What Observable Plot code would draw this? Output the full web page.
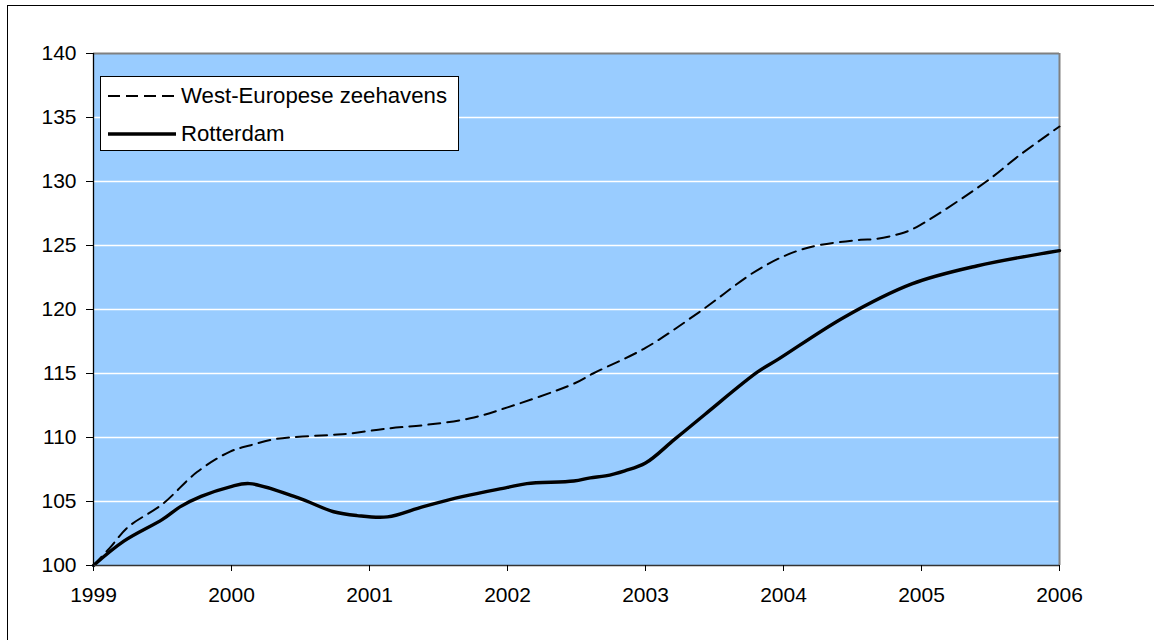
<!DOCTYPE html>
<html>
<head>
<meta charset="utf-8">
<script src="https://cdn.jsdelivr.net/npm/d3@7"></script>
<script src="https://cdn.jsdelivr.net/npm/@observablehq/plot@0.6"></script>
<style>
  html, body { margin: 0; padding: 0; background: #fff; overflow: hidden; }
  body { width: 1154px; height: 640px; position: relative; font-family: "Liberation Sans", Arial, sans-serif; }
  #frame { position: absolute; left: 7px; top: 5px; width: 1300px; height: 800px; border: 1.5px solid #000; box-sizing: border-box; }
  #chart { position: absolute; left: 0; top: 0; }
  #legend { position: absolute; left: 100px; top: 76px; width: 359px; height: 75px; background: #fff; border: 1px solid #000; box-sizing: border-box; }
  #legend .item { position: absolute; left: 0; height: 30px; display: flex; align-items: center; }
  #legend svg { margin-left: 7px; }
  #legend span { font-size: 22.2px; color: #000; margin-left: 5px; white-space: nowrap; }
</style>
</head>
<body>
<div id="frame"></div>
<div id="chart"></div>
<div id="legend"></div>
<script>
// Series: West-European seaports (dashed)
const westYears  = [1999.00, 1999.12, 1999.25, 1999.50, 1999.75, 1999.99, 2000.14, 2000.33, 2000.72, 2000.85, 2001.13, 2001.42, 2001.73, 2002.00, 2002.48, 2002.62, 2003.00, 2003.39, 2003.83, 2004.15, 2004.56, 2004.66, 2004.87, 2004.99, 2005.47, 2005.71, 2006.00];
const westValues = [100.0, 101.4, 103.0, 104.8, 107.3, 108.9, 109.4, 109.9, 110.2, 110.3, 110.7, 111.0, 111.5, 112.35, 114.2, 115.0, 117.0, 119.8, 123.2, 124.75, 125.45, 125.5, 126.0, 126.6, 130.0, 132.05, 134.3];

// Series: Rotterdam (solid)
const rdamYears  = [1999.00, 1999.22, 1999.50, 1999.63, 1999.78, 1999.99, 2000.13, 2000.48, 2000.74, 2000.91, 2001.13, 2001.39, 2001.68, 2002.00, 2002.14, 2002.48, 2002.60, 2002.71, 2002.85, 2003.00, 2003.21, 2003.43, 2003.81, 2003.96, 2004.44, 2004.93, 2005.40, 2006.00];
const rdamValues = [100.0, 101.9, 103.6, 104.6, 105.4, 106.15, 106.4, 105.3, 104.2, 103.9, 103.8, 104.6, 105.4, 106.1, 106.4, 106.6, 106.85, 107.0, 107.4, 108.0, 109.85, 111.8, 115.1, 116.1, 119.4, 122.0, 123.4, 124.6];

const xTicks = [1999, 2000, 2001, 2002, 2003, 2004, 2005, 2006];
const yTicks = [100, 105, 110, 115, 120, 125, 130, 135, 140];
const gridValues = [105, 110, 115, 120, 125, 130, 135];
const seriesNames = ["West-Europese zeehavens", "Rotterdam"];

const west = westYears.map((t, i) => ({t, v: westValues[i]}));
const rdam = rdamYears.map((t, i) => ({t, v: rdamValues[i]}));

const chart = Plot.plot({
  width: 1154,
  height: 640,
  marginLeft: 93,
  marginRight: 95,
  marginTop: 53,
  marginBottom: 75,
  style: { fontFamily: "'Liberation Sans', Arial, sans-serif", fontSize: "21px", color: "#000", background: "transparent" },
  x: { domain: [1999, 2006] },
  y: { domain: [100, 140] },
  marks: [
    Plot.frame({ fill: "#99CCFF", stroke: "none" }),
    Plot.ruleY(gridValues, { stroke: "#ffffff", strokeWidth: 1.3 }),
    Plot.ruleY([140], { stroke: "#808080", strokeWidth: 2 }),
    Plot.ruleX([2006], { stroke: "#808080", strokeWidth: 2 }),
    Plot.line(west, { x: "t", y: "v", curve: "catmull-rom", stroke: "#000", strokeWidth: 2, strokeDasharray: "12,7" }),
    Plot.line(rdam, { x: "t", y: "v", curve: "catmull-rom", stroke: "#000", strokeWidth: 3.4 }),
    Plot.ruleX([1999], { stroke: "#000", strokeWidth: 1.3 }),
    Plot.ruleY([100], { stroke: "#333", strokeWidth: 1.5 }),
    Plot.axisX({ ticks: xTicks, tickFormat: d => String(d), tickSize: 6, tickPadding: 16, label: null, fontSize: 21 }),
    Plot.axisY({ ticks: yTicks, tickFormat: d => String(d), tickSize: 7, tickPadding: 10, label: null, fontSize: 21 })
  ]
});
document.getElementById("chart").appendChild(chart);

// Legend
const legend = document.getElementById("legend");
const styles = [
  { dash: "12,6", width: 2, top: 4 },
  { dash: null, width: 3.4, top: 42 }
];
seriesNames.forEach((name, i) => {
  const item = document.createElement("div");
  item.className = "item";
  item.style.top = styles[i].top + "px";
  const ns = "http://www.w3.org/2000/svg";
  const svg = document.createElementNS(ns, "svg");
  svg.setAttribute("width", "68");
  svg.setAttribute("height", "10");
  const ln = document.createElementNS(ns, "line");
  ln.setAttribute("x1", "0"); ln.setAttribute("x2", "68");
  ln.setAttribute("y1", "5"); ln.setAttribute("y2", "5");
  ln.setAttribute("stroke", "#000");
  ln.setAttribute("stroke-width", styles[i].width);
  if (styles[i].dash) ln.setAttribute("stroke-dasharray", styles[i].dash);
  svg.appendChild(ln);
  const span = document.createElement("span");
  span.textContent = name;
  item.appendChild(svg);
  item.appendChild(span);
  legend.appendChild(item);
});
</script>
</body>
</html>
